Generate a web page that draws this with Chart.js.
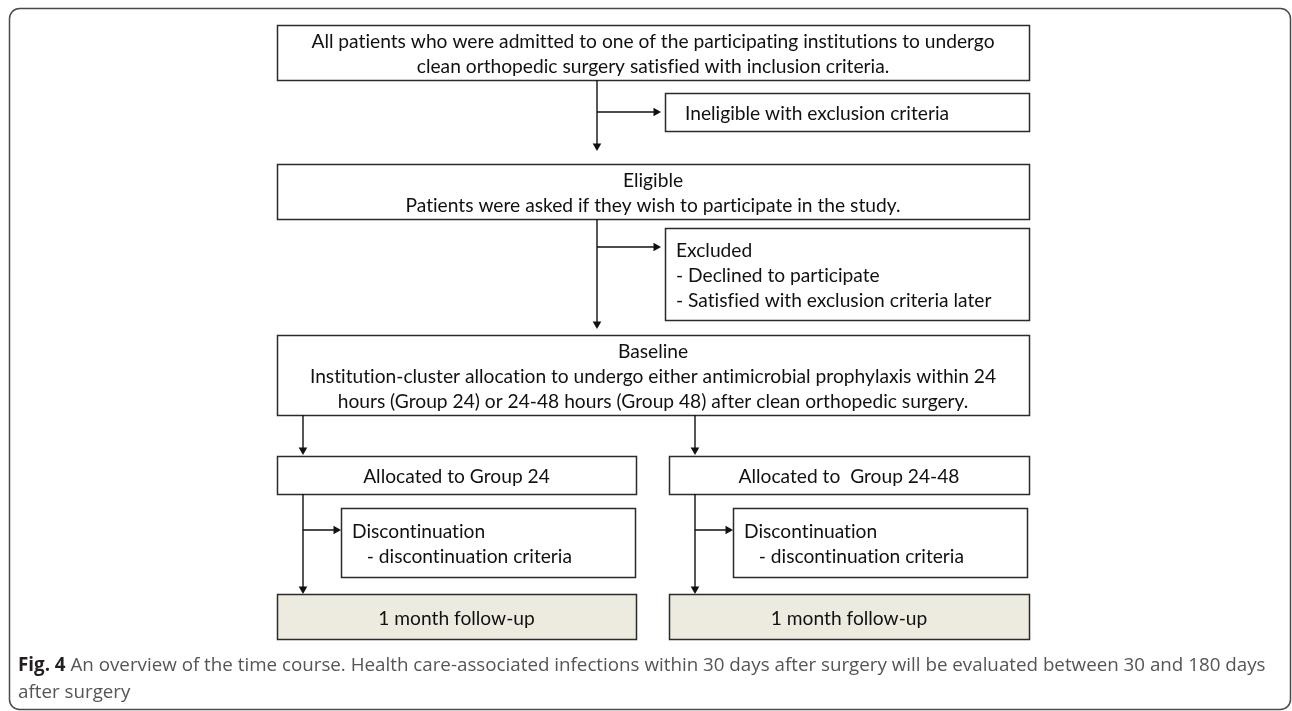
<!DOCTYPE html>
<html lang="en">
<head>
  <meta charset="UTF-8">
  <title>Fig. 4 - time course overview</title>
  <script src="https://cdn.jsdelivr.net/npm/chart.js"></script>
  <style>
    body {
      margin: 0;
      padding: 0;
      background-color: #ffffff;
    }
    .chart-container {
      width: 1292px;
      height: 711px;
    }
  </style>
</head>
<body>
  <div class="chart-container">
    <canvas id="flowChart"></canvas>
  </div>

  <script>
    // Flow boxes (diagram units = page pixels)
    const boxLabels = [
      ['All patients who were admitted to one of the participating institutions to undergo',
       'clean orthopedic surgery satisfied with inclusion criteria.'],
      ['Ineligible with exclusion criteria'],
      ['Eligible', 'Patients were asked if they wish to participate in the study.'],
      ['Excluded', '- Declined to participate', '- Satisfied with exclusion criteria later'],
      ['Baseline',
       'Institution-cluster allocation to undergo either antimicrobial prophylaxis within 24',
       'hours (Group 24) or 24-48 hours (Group 48) after clean orthopedic surgery.'],
      ['Allocated to Group 24'],
      ['Allocated to  Group 24-48'],
      ['Discontinuation', '   - discontinuation criteria'],
      ['Discontinuation', '   - discontinuation criteria'],
      ['1 month follow-up'],
      ['1 month follow-up']
    ];
    const boxLeft   = [277, 665, 277, 665, 277, 277, 669, 341, 733, 277, 669];
    const boxRight  = [1029, 1029, 1029, 1029, 1029, 636, 1029, 635, 1027, 636, 1029];
    const boxTop    = [25, 93, 164, 228, 335, 456, 456, 508, 508, 594, 594];
    const boxBottom = [80, 131, 219, 320, 415, 494, 494, 577, 577, 639, 639];
    const boxAlign  = ['center', 'left', 'center', 'left', 'center', 'center', 'center', 'left', 'left', 'center', 'center'];
    const boxFill   = ['#ffffff', '#ffffff', '#ffffff', '#ffffff', '#ffffff', '#ffffff', '#ffffff', '#ffffff', '#ffffff', '#edeae0', '#edeae0'];

    // Connectors: start and arrow tip
    const arrowFromX = [597, 597, 597, 597, 303, 695, 303, 303, 695, 695];
    const arrowFromY = [80, 112, 219, 247, 415, 415, 494, 530, 494, 530];
    const arrowToX   = [597, 661, 597, 661, 303, 695, 303, 341, 695, 733];
    const arrowToY   = [151, 112, 329, 247, 455, 455, 594, 530, 594, 530];

    const captionBold = 'Fig. 4';
    const captionLines = [
      'An overview of the time course. Health care-associated infections within 30 days after surgery will be evaluated between 30 and 180 days',
      'after surgery'
    ];

    const BOX_FONT = '19.2px Lato, "Open Sans", sans-serif';
    const CAPTION_FAMILY = '"Open Sans", "Noto Sans", sans-serif';
    const LINE_H = 25;
    const ARROW_R = 5;

    // one line dataset per connector, plus the arrowheads as rotated triangles
    const datasets = [];
    for (let i = 0; i < arrowFromX.length; i++) {
      const dx = Math.sign(arrowToX[i] - arrowFromX[i]);
      const dy = Math.sign(arrowToY[i] - arrowFromY[i]);
      datasets.push({
        type: 'line',
        data: [{ x: arrowFromX[i], y: arrowFromY[i] }, { x: arrowToX[i] - dx * 4, y: arrowToY[i] - dy * 4 }],
        borderColor: '#111111',
        borderWidth: 1.4,
        pointRadius: 0,
        fill: false,
        tension: 0
      });
      datasets.push({
        type: 'scatter',
        data: [{ x: arrowToX[i] - dx * ARROW_R, y: arrowToY[i] - dy * ARROW_R }],
        pointStyle: 'triangle',
        rotation: dx !== 0 ? 90 : 180,
        pointRadius: ARROW_R,
        backgroundColor: '#111111',
        borderColor: '#111111',
        borderWidth: 0
      });
    }

    const flowPlugin = {
      id: 'flowBoxes',
      beforeDatasetsDraw(chart) {
        const { ctx, scales: { x, y } } = chart;
        ctx.save();
        // outer rounded frame
        const fx0 = x.getPixelForValue(9), fx1 = x.getPixelForValue(1290);
        const fy0 = y.getPixelForValue(8), fy1 = y.getPixelForValue(709);
        ctx.beginPath();
        ctx.roundRect(fx0 + 0.5, fy0 + 0.5, fx1 - fx0, fy1 - fy0, 10);
        ctx.strokeStyle = '#4a4a4a';
        ctx.lineWidth = 1.5;
        ctx.stroke();

        for (let i = 0; i < boxLabels.length; i++) {
          const x0 = x.getPixelForValue(boxLeft[i]);
          const x1 = x.getPixelForValue(boxRight[i]);
          const y0 = y.getPixelForValue(boxTop[i]);
          const y1 = y.getPixelForValue(boxBottom[i]);
          ctx.fillStyle = boxFill[i];
          ctx.fillRect(x0, y0, x1 - x0, y1 - y0);
          ctx.strokeStyle = '#2b2b2b';
          ctx.lineWidth = 1.5;
          ctx.strokeRect(x0 + 0.5, y0 + 0.5, x1 - x0, y1 - y0);
        }
        ctx.restore();
      },
      afterDatasetsDraw(chart) {
        const { ctx, scales: { x, y } } = chart;
        ctx.save();
        ctx.textRendering = 'optimizeSpeed'; // no "ti" ligatures
        ctx.font = BOX_FONT;
        ctx.fillStyle = '#111111';
        ctx.textBaseline = 'middle';
        for (let i = 0; i < boxLabels.length; i++) {
          const lines = boxLabels[i];
          const cy = (boxTop[i] + boxBottom[i]) / 2 + 2;
          const firstY = cy - (lines.length - 1) * LINE_H / 2;
          const pad = lines.length > 1 ? 11 : 20;
          lines.forEach((txt, k) => {
            const py = y.getPixelForValue(firstY + k * LINE_H);
            if (boxAlign[i] === 'center') {
              ctx.textAlign = 'center';
              ctx.fillText(txt, x.getPixelForValue((boxLeft[i] + boxRight[i]) / 2), py);
            } else {
              ctx.textAlign = 'left';
              ctx.fillText(txt, x.getPixelForValue(boxLeft[i] + pad), py);
            }
          });
        }

        // caption: size picked so the first line fills the frame width
        const cx0 = x.getPixelForValue(18), cx1 = x.getPixelForValue(1266);
        const cy0 = y.getPixelForValue(666), cy1 = y.getPixelForValue(693);
        ctx.textAlign = 'left';
        let size = 15;
        ctx.font = 'bold ' + size + 'px ' + CAPTION_FAMILY;
        let natural = ctx.measureText(captionBold + ' ').width;
        ctx.font = size + 'px ' + CAPTION_FAMILY;
        natural += ctx.measureText(captionLines[0]).width;
        size = size * (cx1 - cx0) / natural;

        ctx.font = 'bold ' + size + 'px ' + CAPTION_FAMILY;
        ctx.fillStyle = '#231f20';
        ctx.fillText(captionBold, cx0, cy0);
        const boldW = ctx.measureText(captionBold + ' ').width;
        ctx.font = size + 'px ' + CAPTION_FAMILY;
        ctx.fillStyle = '#555555';
        ctx.fillText(captionLines[0], cx0 + boldW, cy0);
        ctx.fillText(captionLines[1], cx0, cy1);
        ctx.restore();
      }
    };

    const ctx = document.getElementById('flowChart').getContext('2d');
    const flowChart = new Chart(ctx, {
      type: 'scatter',
      data: { datasets: datasets },
      options: {
        responsive: true,
        maintainAspectRatio: false,
        animation: false,
        layout: { padding: 0, autoPadding: false },
        plugins: {
          legend: { display: false },
          tooltip: { enabled: false }
        },
        scales: {
          x: { type: 'linear', min: 0, max: 1292, display: false },
          y: { type: 'linear', min: 0, max: 711, reverse: true, display: false }
        }
      },
      plugins: [flowPlugin]
    });
  </script>
</body>
</html>
